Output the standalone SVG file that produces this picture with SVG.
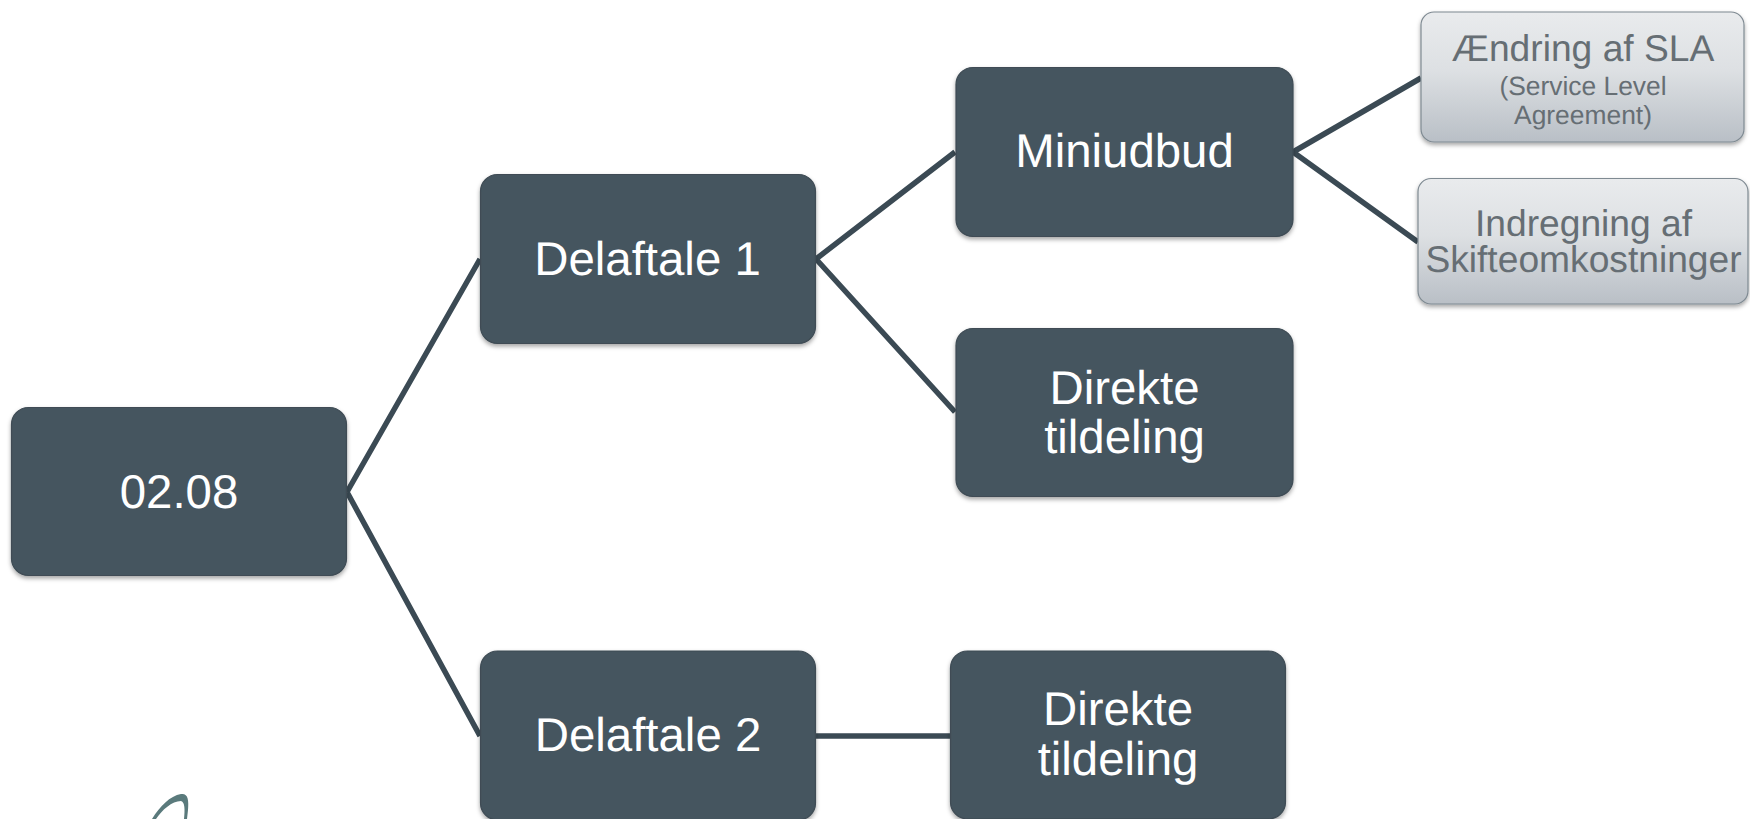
<svg xmlns="http://www.w3.org/2000/svg" width="1750" height="819" viewBox="0 0 1750 819">
<style>
.dark{fill:#45545e;stroke:#3f4c55;stroke-width:1.2;filter:url(#sh)}
.light{fill:url(#lg);stroke:#7f8a92;stroke-width:1.2;filter:url(#sh)}
.c{fill:none;stroke:#3b4a54;stroke-width:5.5}
text{font-family:"Liberation Sans",Arial,sans-serif;text-anchor:middle;text-rendering:geometricPrecision}
.w{fill:#fff;font-size:47.4px}
.g{fill:#666e74;font-size:37.2px}
.s{fill:#666e74;font-size:26.4px}
</style>
<defs>
<linearGradient id="lg" x1="0" y1="0" x2="0" y2="1"><stop offset="0" stop-color="#e9ebed"/><stop offset=".45" stop-color="#dde0e3"/><stop offset="1" stop-color="#b9bfc6"/></linearGradient>
<filter id="sh" x="-5%" y="-5%" width="110%" height="115%"><feDropShadow dx="0" dy="2.5" stdDeviation="2" flood-color="#000" flood-opacity=".35"/></filter>
</defs>
<rect width="1750" height="819" fill="#fff"/>
<g id="connectors">
<path class="c" d="M347 492L480 259M347 492L480 736M816 259L955 152M816 259L955 412M816 736H950M1293 152L1421 78M1293 152L1418 242"/>
</g>
<g id="n-root"><rect class="dark" x="11.5" y="407.5" width="335" height="168" rx="17"/><text class="w" x="179" y="508">02.08</text></g>
<g id="n-d1"><rect class="dark" x="480.5" y="174.5" width="335" height="169" rx="17"/><text class="w" x="647.5" y="275">Delaftale 1</text></g>
<g id="n-mini"><rect class="dark" x="956" y="67.5" width="337" height="169" rx="17"/><text class="w" x="1115" y="167" style="text-anchor:middle" dx="9.500">Miniudbud</text></g>
<g id="n-dt1"><rect class="dark" x="956" y="328.5" width="337" height="168" rx="17"/><text class="w" x="1124.5" y="404">Direkte</text><text class="w" x="1124.5" y="453">tildeling</text></g>
<g id="n-d2"><rect class="dark" x="480.5" y="651" width="335" height="169" rx="17"/><text class="w" x="648" y="751">Delaftale 2</text></g>
<g id="n-dt2"><rect class="dark" x="950.5" y="651" width="335" height="168" rx="17"/><text class="w" x="1118" y="725">Direkte</text><text class="w" x="1118" y="775">tildeling</text></g>
<g id="n-sla"><rect class="light" x="1421" y="12" width="323" height="130" rx="13"/><text class="g" x="1583" y="61">Ændring af SLA</text><text class="s" x="1583" y="95">(Service Level</text><text class="s" x="1583" y="124">Agreement)</text></g>
<g id="n-skift"><rect class="light" x="1418" y="178.500" width="330" height="125.500" rx="13"/><text class="g" x="1583.500" y="236">Indregning af</text><text class="g" x="1583.500" y="272">Skifteomkostninger</text></g>
<path id="logo" fill="#5a7a7c" d="M152 819C160 806 170 796 181 794C188 793 189 800 188 810L187 819H184C185 810 185 802 181 801C172 801 162 810 156 819Z"/>
</svg>
